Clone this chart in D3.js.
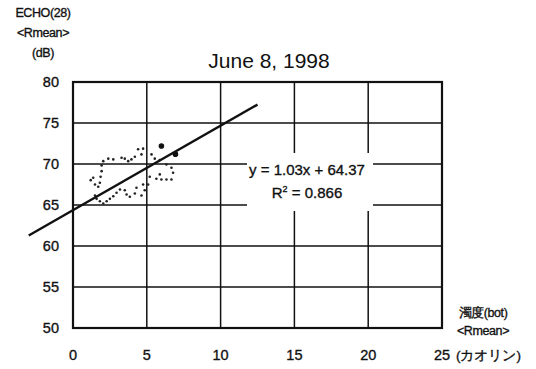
<!DOCTYPE html>
<html>
<head>
<meta charset="utf-8">
<script src="https://cdn.jsdelivr.net/npm/d3@7"></script>
<style>
  html, body { margin: 0; padding: 0; background: #fff; }
  svg { display: block; }
  text { font-family: "Liberation Sans", Arial, sans-serif; fill: #111; }
  .heavy { stroke: #111; stroke-width: 0.35; }
</style>
</head>
<body>
<script>
// Turbidity (kaolin units) vs. ECHO(28) mean return, June 8, 1998
const xTicks = [0, 5, 10, 15, 20, 25];
const yTicks = [50, 55, 60, 65, 70, 75, 80];

// Individual samples (small dots)
const turbidity = [2.05, 2.39, 2.73, 3.29, 3.51, 3.74, 3.96, 4.19, 4.41, 4.75, 4.64,
  5.32, 5.54, 5.88, 6.33, 6.67, 6.78, 6.67, 6.33, 5.99, 5.65, 5.88, 5.20,
  4.75, 4.86, 4.64, 4.30, 4.19, 3.85, 3.63, 3.51, 3.18, 2.95, 2.73, 2.50,
  2.28, 2.05, 1.82, 1.60, 1.49, 1.94, 1.94, 1.87, 1.82, 1.71, 1.37, 1.20,
  1.49, 5.09];
const echo = [70.35, 70.65, 70.56, 70.77, 70.65, 70.35, 70.56, 70.89, 71.79, 71.87, 71.17,
  71.17, 70.65, 70.48, 69.95, 69.55, 68.93, 68.11, 68.11, 68.11, 68.20, 68.73, 68.44,
  67.50, 66.80, 66.16, 67.10, 66.40, 66.00, 66.28, 66.80, 66.89, 66.49, 66.07, 65.75,
  65.46, 65.18, 65.46, 65.75, 66.16, 69.83, 69.13, 68.44, 67.71, 67.22, 68.32, 68.03,
  67.50, 67.50];

// Highlighted samples (large dots)
const markTurbidity = [5.99, 6.94];
const markEcho = [72.2, 71.2];

// Linear fit y = a x + b
const slope = 1.03;
const intercept = 64.37;
const rSquared = 0.866;
const fitRange = [-3, 12.5];

const W = 536, H = 369;
const svg = d3.select("body").append("svg").attr("width", W).attr("height", H);

const x = d3.scaleLinear().domain([0, 25]).range([73, 442]);
const y = d3.scaleLinear().domain([50, 80]).range([328, 82]);

// Grid
const grid = svg.append("g").attr("stroke", "#111").attr("stroke-width", 1.5);
grid.selectAll("line.v").data(xTicks.slice(1, -1)).join("line")
  .attr("x1", d => x(d)).attr("x2", d => x(d))
  .attr("y1", y(80)).attr("y2", y(50));
grid.selectAll("line.h").data(yTicks.slice(1, -1)).join("line")
  .attr("x1", x(0)).attr("x2", x(25))
  .attr("y1", d => y(d)).attr("y2", d => y(d));

// Plot frame
svg.append("rect")
  .attr("x", x(0)).attr("y", y(80))
  .attr("width", x(25) - x(0)).attr("height", y(50) - y(80))
  .attr("fill", "none").attr("stroke", "#111").attr("stroke-width", 2.2);

// Sample dots
const pts = turbidity.map((t, i) => [t, echo[i]]);
svg.append("g").selectAll("circle").data(pts).join("circle")
  .attr("cx", d => x(d[0])).attr("cy", d => y(d[1])).attr("r", 1.3).attr("fill", "#222");

const marks = markTurbidity.map((t, i) => [t, markEcho[i]]);
svg.append("g").selectAll("circle").data(marks).join("circle")
  .attr("cx", d => x(d[0])).attr("cy", d => y(d[1])).attr("r", 2.8).attr("fill", "#111");

// Regression line
svg.append("line")
  .attr("x1", x(fitRange[0])).attr("y1", y(slope * fitRange[0] + intercept))
  .attr("x2", x(fitRange[1])).attr("y2", y(slope * fitRange[1] + intercept))
  .attr("stroke", "#111").attr("stroke-width", 2.4);

// Equation label on a white panel
svg.append("rect").attr("x", 247).attr("y", 153).attr("width", 126).attr("height", 58)
  .attr("fill", "#fff");
const eq = svg.append("text").attr("x", 307).attr("y", 175).attr("class", "heavy")
  .attr("text-anchor", "middle").attr("font-size", 15);
eq.text(`y = ${slope.toFixed(2)}x + ${intercept.toFixed(2)}`);
const r2 = svg.append("text").attr("x", 307).attr("y", 198).attr("class", "heavy")
  .attr("text-anchor", "middle").attr("font-size", 15);
r2.append("tspan").text("R");
r2.append("tspan").attr("font-size", 9).attr("dy", -6).text("2");
r2.append("tspan").attr("dy", 6).text(` = ${rSquared.toFixed(3)}`);

// Y tick labels
svg.append("g").selectAll("text").data(yTicks).join("text")
  .attr("class", "heavy")
  .attr("x", 59).attr("y", d => y(d) + 5)
  .attr("text-anchor", "end").attr("font-size", 14.5)
  .text(d => d);

// X tick labels
svg.append("g").selectAll("text").data(xTicks).join("text")
  .attr("class", "heavy")
  .attr("x", d => x(d)).attr("y", 360)
  .attr("text-anchor", "middle").attr("font-size", 14.5)
  .text(d => d);
svg.append("text").attr("x", 456).attr("y", 360).attr("font-size", 13.5)
  .attr("class", "heavy")
  .attr("font-family", "'Noto Sans CJK JP', sans-serif")
  .text("(カオリン)");

// Axis titles
const yTitle = ["ECHO(28)", "<Rmean>", "(dB)"];
svg.append("g").selectAll("text").data(yTitle).join("text")
  .attr("class", "heavy")
  .attr("x", 43).attr("y", (d, i) => 17 + i * 20)
  .attr("text-anchor", "middle").attr("font-size", 12.5).attr("letter-spacing", -0.4)
  .text(d => d);

const xTitle = ["濁度(bot)", "<Rmean>"];
svg.append("g").selectAll("text").data(xTitle).join("text")
  .attr("class", "heavy")
  .attr("x", 483).attr("y", (d, i) => 317 + i * 18)
  .attr("text-anchor", "middle").attr("font-size", 12.5).attr("letter-spacing", -0.4)
  .attr("font-family", "'Noto Sans CJK JP', 'Liberation Sans', sans-serif")
  .text(d => d);

// Title
svg.append("text").attr("x", 269).attr("y", 68)
  .attr("text-anchor", "middle").attr("font-size", 21)
  .text("June 8, 1998");
</script>
</body>
</html>
